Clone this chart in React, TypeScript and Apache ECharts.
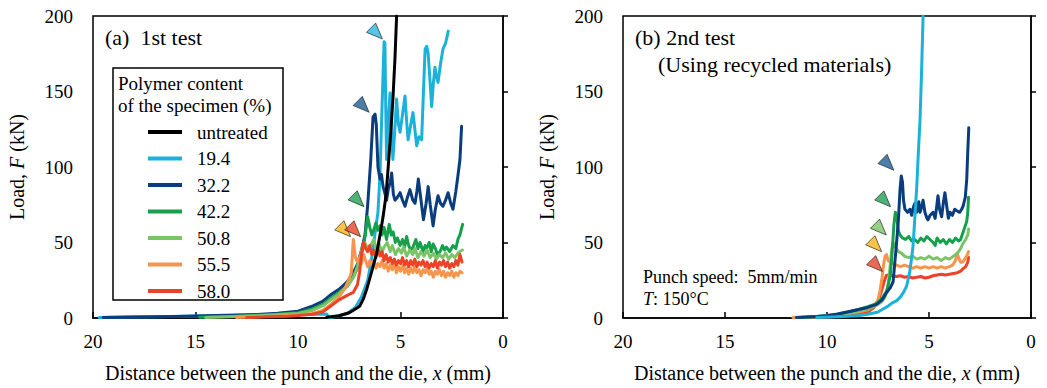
import React, { useEffect, useRef } from "react";
import * as echarts from "echarts";

// ---------- data ----------
const seriesNames = ["untreated", "19.4", "32.2", "42.2", "50.8", "55.5", "58.0"];
const seriesColors = ["#000000", "#1BB2DA", "#0B3C7D", "#16A04C", "#7AC467", "#F6964E", "#EA4426"];

const xTicks = [0, 5, 10, 15, 20];
const yTicks = [0, 50, 100, 150, 200];

// (a) 1st test: [distance x (mm), load F (kN)]
const aUntreated = [[8.6,0.5],[8,1.5],[7.5,3.5],[7.2,6],[6.98,8],[6.8,13],[6.65,19],[6.4,31],[6.16,43],[6.0,55],[5.85,67],[5.7,82],[5.6,100],[5.48,122],[5.37,145],[5.27,172],[5.19,200]];
const a19_4 = [[19.7,0.3],[18.5,0.6],[17,0.9],[15.5,1.2],[14,1.5],[12.5,1.8],[11,2.1],[9.5,2.4],[8.6,2.6],[8.48,0.2],[8,1.5],[7.6,3],[7.2,7],[6.9,14],[6.6,25],[6.4,40],[6.25,55],[6.1,70],[6.0,95],[5.9,140],[5.8,183],[5.76,182],[5.72,140],[5.68,105],[5.6,130],[5.51,149],[5.45,125],[5.37,105],[5.3,120],[5.19,145],[5.1,128],[5.02,123],[4.9,135],[4.78,147],[4.7,130],[4.63,118],[4.5,128],[4.39,136],[4.3,125],[4.21,114],[4.1,120],[3.97,118],[3.88,150],[3.8,178],[3.72,180],[3.65,175],[3.55,155],[3.48,140],[3.4,155],[3.32,166],[3.25,160],[3.17,156],[3.05,168],[2.93,178],[2.8,182],[2.67,190]];
const a32_2 = [[19.5,0.3],[18,0.6],[16,1],[14,1.6],[12,2.4],[11,3.2],[10,4.5],[9.27,8],[8.8,11],[8.44,15],[8,19],[7.6,24],[7.3,30],[7.12,35],[6.9,45],[6.73,55],[6.6,75],[6.45,105],[6.34,133],[6.24,135],[6.18,128],[6.1,100],[6.0,92],[5.93,95],[5.85,87],[5.75,82],[5.68,78],[5.6,85],[5.5,90],[5.43,96],[5.35,82],[5.27,78],[5.15,80],[5.02,83],[4.9,78],[4.78,74],[4.66,80],[4.54,85],[4.4,78],[4.29,76],[4.2,84],[4.13,92],[4.0,78],[3.88,65],[3.75,76],[3.65,87],[3.55,75],[3.41,61],[3.3,72],[3.17,81],[3.05,76],[2.93,74],[2.8,78],[2.68,83],[2.55,76],[2.44,72],[2.3,84],[2.2,94],[2.1,105],[2.02,127]];
const a42_2 = [[14.8,0.5],[13,1.2],[12,1.8],[11,2.5],[10,3.5],[9.3,6],[8.8,9],[8.4,13],[8,17],[7.6,21],[7.3,27],[7.1,33],[6.9,42],[6.75,52],[6.65,62],[6.6,67],[6.5,60],[6.4,55],[6.34,57],[6.2,63],[6.1,58],[6.0,61],[5.9,55],[5.8,60],[5.68,52],[5.55,62],[5.45,55],[5.36,57],[5.25,50],[5.15,53],[5.02,48],[4.9,52],[4.8,47],[4.7,54],[4.6,48],[4.5,45],[4.39,47],[4.25,52],[4.15,46],[4.05,50],[3.9,44],[3.8,48],[3.72,46],[3.6,50],[3.5,44],[3.41,49],[3.3,46],[3.2,42],[3.07,44],[2.95,48],[2.85,45],[2.76,47],[2.6,44],[2.44,48],[2.3,46],[2.2,52],[2.1,55],[1.97,62]];
const a50_8 = [[14.5,0.4],[13,1],[11.5,1.8],[10,3],[9.3,5],[8.8,8],[8.4,12],[8,16],[7.6,21],[7.3,27],[7.1,34],[6.95,42],[6.85,48],[6.75,50],[6.6,46],[6.45,48],[6.3,52],[6.2,46],[6.05,49],[5.9,44],[5.8,47],[5.65,50],[5.5,44],[5.4,48],[5.25,42],[5.1,46],[4.95,43],[4.85,47],[4.7,41],[4.55,45],[4.4,42],[4.3,46],[4.15,40],[4.0,44],[3.85,41],[3.7,45],[3.55,40],[3.4,43],[3.25,39],[3.1,42],[2.95,40],[2.8,43],[2.65,39],[2.5,42],[2.35,40],[2.2,43],[2.1,44],[1.98,45]];
const a55_5 = [[13,0.3],[12,0.8],[11,1.4],[10,2],[9.3,3],[8.8,5],[8.4,9],[8,14],[7.7,20],[7.5,26],[7.4,30],[7.35,42],[7.3,52],[7.25,46],[7.2,40],[7.1,37],[7.0,40],[6.9,36],[6.8,42],[6.7,38],[6.6,34],[6.5,38],[6.4,35],[6.3,38],[6.2,33],[6.1,36],[6.0,34],[5.9,38],[5.8,33],[5.7,36],[5.6,31],[5.5,35],[5.4,32],[5.3,36],[5.2,30],[5.1,34],[5.0,31],[4.9,35],[4.8,30],[4.7,33],[4.6,29],[4.5,33],[4.4,30],[4.3,34],[4.2,30],[4.1,32],[4.0,28],[3.9,32],[3.8,30],[3.7,33],[3.6,29],[3.5,31],[3.4,27],[3.3,31],[3.2,29],[3.1,32],[3.0,28],[2.9,31],[2.8,27],[2.7,30],[2.6,28],[2.5,31],[2.4,27],[2.3,30],[2.2,28],[2.1,31],[2.0,30]];
const a58_0 = [[12.5,0.3],[11.5,0.8],[10.5,1.2],[10,1.6],[9.3,2.5],[8.8,4],[8.4,8],[8,12],[7.6,15],[7.3,17],[7.1,22],[7.0,30],[6.9,42],[6.85,48],[6.8,50],[6.7,46],[6.6,44],[6.5,48],[6.4,42],[6.3,45],[6.2,40],[6.1,46],[6.0,41],[5.9,44],[5.8,38],[5.7,42],[5.6,37],[5.5,40],[5.4,36],[5.3,39],[5.2,35],[5.1,38],[5.0,36],[4.9,40],[4.8,35],[4.7,38],[4.6,34],[4.5,38],[4.4,35],[4.3,39],[4.2,34],[4.1,37],[4.0,35],[3.9,38],[3.8,34],[3.7,37],[3.6,33],[3.5,36],[3.4,34],[3.3,38],[3.2,33],[3.1,37],[3.0,35],[2.9,38],[2.8,34],[2.7,37],[2.6,33],[2.5,36],[2.4,34],[2.3,38],[2.2,35],[2.1,42],[2.0,37]];

// (b) 2nd test
const b19_4 = [[10.5,0.3],[9.5,0.8],[8.5,1.5],[8,2.5],[7.5,4],[7.25,6],[7,8],[6.8,10],[6.58,11.5],[6.4,14],[6.25,17],[6.1,21],[5.95,30],[5.85,40],[5.78,48],[5.7,65],[5.6,87],[5.52,110],[5.44,131],[5.36,165],[5.29,200]];
const b32_2 = [[11.5,0.3],[10.5,1],[10,1.5],[9.5,2.5],[9,4],[8.5,5.5],[8,7],[7.57,9],[7.3,12],[7.07,17],[6.9,20],[6.76,24],[6.62,45],[6.5,65],[6.42,85],[6.36,94],[6.3,90],[6.25,78],[6.18,72],[6.05,70],[5.93,72],[5.85,68],[5.75,74],[5.69,76],[5.6,70],[5.5,77],[5.44,70],[5.35,74],[5.29,78],[5.2,70],[5.1,66],[5.05,65],[4.95,68],[4.8,70],[4.7,66],[4.62,74],[4.56,81],[4.48,72],[4.38,67],[4.3,76],[4.22,83],[4.15,76],[4.05,66],[3.97,70],[3.85,68],[3.74,72],[3.64,71],[3.5,70],[3.4,72],[3.33,74],[3.22,80],[3.15,92],[3.1,110],[3.05,126]];
const b42_2 = [[11.3,0.3],[10.5,1],[10,1.6],[9.5,2.6],[9,4],[8.5,5.5],[8,7.5],[7.57,9.5],[7.3,13],[7.07,18],[6.9,28],[6.8,45],[6.72,62],[6.65,70],[6.58,67],[6.5,58],[6.42,55],[6.3,53],[6.15,52],[6.0,54],[5.85,51],[5.7,52],[5.55,50],[5.4,53],[5.25,51],[5.1,54],[4.95,52],[4.8,50],[4.7,48],[4.6,53],[4.45,50],[4.3,52],[4.15,49],[4.0,52],[3.85,50],[3.7,53],[3.55,51],[3.45,52],[3.35,56],[3.25,60],[3.15,64],[3.1,70],[3.06,80]];
const b50_8 = [[11.3,0.3],[10,1.3],[9,3],[8,6],[7.57,8.5],[7.3,11],[7.15,14],[7.0,22],[6.9,35],[6.82,46],[6.76,50],[6.65,47],[6.5,44],[6.35,43],[6.2,41],[6.0,40],[5.8,41],[5.6,39],[5.4,40],[5.2,39],[5.0,41],[4.8,39],[4.6,40],[4.4,38],[4.2,40],[4.0,39],[3.8,41],[3.6,43],[3.45,46],[3.35,49],[3.3,50],[3.2,52],[3.1,55],[3.06,59]];
const b55_5 = [[11.67,0.3],[10.5,0.8],[10,1.2],[9.5,2],[9,3],[8.5,4],[8,5.5],[7.7,8],[7.5,12],[7.4,18],[7.3,27],[7.22,36],[7.15,41],[7.08,42],[7.0,38],[6.9,37],[6.75,36],[6.6,35],[6.4,34],[6.2,35],[6.0,34],[5.8,33],[5.6,34],[5.4,33],[5.2,34],[5.0,33],[4.8,34],[4.6,33],[4.4,34],[4.2,33],[4.0,34],[3.85,35],[3.7,38],[3.62,43],[3.55,40],[3.45,37],[3.35,37],[3.25,39],[3.15,41],[3.06,44]];
const b58_0 = [[11,0.3],[10,0.7],[9,1.5],[8.5,2.5],[8,4],[7.7,7],[7.5,11],[7.35,17],[7.2,24],[7.1,28],[7.0,28.5],[6.8,28],[6.6,27.5],[6.4,28],[6.2,27],[6.0,27.5],[5.8,26.5],[5.6,27],[5.4,27.5],[5.2,26.5],[5.0,27],[4.8,28],[4.6,28.5],[4.4,29],[4.2,28.5],[4.0,29],[3.8,29.5],[3.6,30],[3.45,31],[3.3,33],[3.2,34],[3.1,37],[3.06,40]];

// peak markers (triangles)
const markersA = [[6.16,188.5],[6.81,140],[7.06,77.5],[7.71,57.6],[7.22,57.6]];
const markerColorsA = ["#2BB5DF", "#1F5E93", "#22A056", "#F8B418", "#EA4426"];
const markersB = [[7.0,101.6],[7.16,77.4],[7.37,58.7],[7.6,47.7],[7.56,34.5]];
const markerColorsB = ["#1F5E93", "#22A056", "#7AC467", "#F8B418", "#EA4426"];

const FONT = "'Liberation Serif', 'DejaVu Serif', 'Times New Roman', serif";

export default function App() {
  const ref = useRef<HTMLDivElement>(null);

  useEffect(() => {
    if (!ref.current) return;
    const chart = echarts.init(ref.current, null, { renderer: "svg" });

    const grids = [
      { left: 93, top: 16, width: 410, height: 303 },
      { left: 623, top: 16, width: 408, height: 303 },
    ];

    const mkX = (i: number) => ({
      type: "value",
      gridIndex: i,
      min: 0,
      max: 20,
      interval: 5,
      inverse: true,
      name: "Distance between the punch and the die, {i|x} (mm)",
      nameLocation: "middle",
      nameGap: 45,
      nameTextStyle: {
        fontFamily: FONT,
        fontSize: 20,
        color: "#000",
        rich: { i: { fontFamily: FONT, fontSize: 20, fontStyle: "italic", color: "#000" } },
      },
      axisLine: { show: true, lineStyle: { color: "#000", width: 1.5 } },
      axisTick: { show: true, inside: true, length: 6, lineStyle: { color: "#000", width: 1.5 } },
      axisLabel: { fontFamily: FONT, fontSize: 19, color: "#000", margin: 14, customValues: xTicks },
      splitLine: { show: false },
    });

    const mkY = (i: number) => ({
      type: "value",
      gridIndex: i,
      min: 0,
      max: 200,
      interval: 50,
      name: "Load, {i|F} (kN)",
      nameLocation: "middle",
      nameGap: 66,
      nameTextStyle: {
        fontFamily: FONT,
        fontSize: 20,
        color: "#000",
        rich: { i: { fontFamily: FONT, fontSize: 20, fontStyle: "italic", color: "#000" } },
      },
      axisLine: { show: true, lineStyle: { color: "#000", width: 1.5 } },
      axisTick: { show: true, inside: true, length: 5, lineStyle: { color: "#000", width: 1.5 } },
      axisLabel: { fontFamily: FONT, fontSize: 19, color: "#000", margin: 20, customValues: yTicks },
      splitLine: { show: false },
    });

    const aData = [aUntreated, a19_4, a32_2, a42_2, a50_8, a55_5, a58_0];
    const bData = [null, b19_4, b32_2, b42_2, b50_8, b55_5, b58_0];

    const line = (name: string, color: string, data: number[][], gi: number, z: number) => ({
      type: "line",
      name,
      xAxisIndex: gi,
      yAxisIndex: gi,
      data,
      showSymbol: false,
      symbol: "none",
      color,
      z,
      lineStyle: { color, width: 3, join: "round", cap: "round" },
      emphasis: { disabled: true },
      silent: true,
      clip: true,
    });

    const series: any[] = [];
    [1, 2, 3, 4, 5, 6].forEach((k) => series.push(line(seriesNames[k], seriesColors[k], aData[k] as number[][], 0, 2)));
    series.push(line(seriesNames[0], seriesColors[0], aData[0], 0, 3));
    [6, 5, 4, 3, 2].forEach((k) => series.push(line(seriesNames[k], seriesColors[k], bData[k] as number[][], 1, 2)));
    series.push(line(seriesNames[1], seriesColors[1], bData[1] as number[][], 1, 3));

    const markerSeries = (id: string, pts: number[][], cols: string[], gi: number) => ({
      type: "scatter",
      name: id,
      xAxisIndex: gi,
      yAxisIndex: gi,
      symbol: "triangle",
      symbolSize: [13, 16],
      symbolRotate: -135,
      z: 5,
      silent: true,
      data: pts.map((p, i) => ({
        value: p,
        itemStyle: { color: cols[i], borderColor: "#222", borderWidth: 0.8 },
      })),
    });
    series.push(markerSeries("peaks-a", markersA, markerColorsA, 0));
    series.push(markerSeries("peaks-b", markersB, markerColorsB, 1));

    const txt = (x: number, y: number, text: string, size: number, extra: any = {}) => ({
      type: "text",
      z: 6,
      x,
      y,
      style: {
        text,
        fontFamily: FONT,
        fontSize: size,
        fill: "#000",
        verticalAlign: "middle",
        textVerticalAlign: "middle",
        ...extra,
      },
    });

    const option: any = {
      animation: false,
      backgroundColor: "#fff",
      textStyle: { fontFamily: FONT },
      grid: grids.map((g) => ({ ...g, show: true, borderColor: "#000", borderWidth: 1.5, backgroundColor: "transparent" })),
      xAxis: [mkX(0), mkX(1)],
      yAxis: [mkY(0), mkY(1)],
      legend: {
        data: seriesNames.map((n) => ({ name: n, icon: "rect" })),
        orient: "vertical",
        left: 148,
        top: 122,
        padding: 0,
        itemWidth: 34,
        itemHeight: 4,
        itemGap: 6.5,
        selectedMode: false,
        textStyle: { fontFamily: FONT, fontSize: 19, color: "#000", lineHeight: 20, padding: [0, 0, 0, 10] },
        z: 6,
      },
      graphic: [
        {
          type: "rect",
          z: 4,
          shape: { x: 113, y: 68, width: 170, height: 232 },
          style: { fill: "#fff", stroke: "#000", lineWidth: 1.5 },
          silent: true,
        },
        txt(118, 83, "Polymer content", 19),
        txt(118, 105, "of the specimen (%)", 19),
        txt(105, 37, "(a)  1st test", 22),
        txt(635, 37, "(b) 2nd test", 22),
        txt(658, 64, "(Using recycled materials)", 22),
        txt(643, 277, "Punch speed:  5mm/min", 18),
        txt(643, 299, "{i|T}: 150°C", 18, {
          rich: { i: { fontFamily: FONT, fontSize: 18, fontStyle: "italic", fill: "#000" } },
        }),
      ],
      series,
    };

    chart.setOption(option);
    return () => chart.dispose();
  }, []);

  return (
    <div
      ref={ref}
      style={{ position: "absolute", left: 0, top: 0, width: 1047, height: 388, background: "#fff" }}
    />
  );
}
